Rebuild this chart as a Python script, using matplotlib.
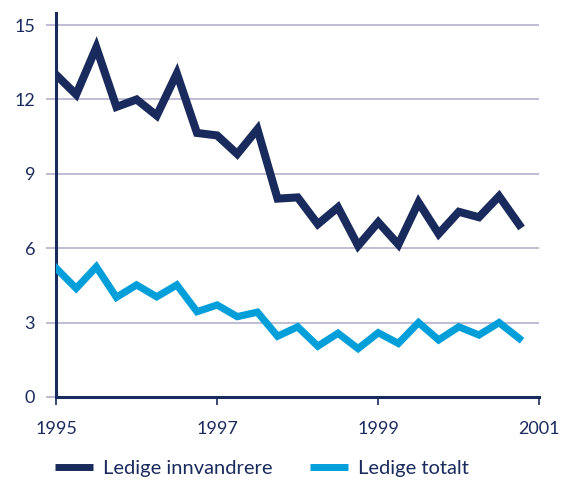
import matplotlib
matplotlib.use("Agg")
import matplotlib.pyplot as plt
import numpy as np

years = [1995 + 0.25 * i for i in range(24)]
innvandrere = [13.0, 12.2, 14.1, 11.7, 12.0, 11.35, 13.05, 10.65, 10.55, 9.8, 10.8, 8.0,
               8.05, 6.97, 7.65, 6.1, 7.05, 6.15, 7.85, 6.58, 7.47, 7.25, 8.1, 6.95]
totalt = [5.2, 4.38, 5.25, 4.02, 4.52, 4.04, 4.52, 3.44, 3.71, 3.24, 3.42, 2.45,
          2.83, 2.05, 2.57, 1.95, 2.59, 2.16, 3.0, 2.3, 2.83, 2.5, 3.0, 2.36]
xticks = [1995, 1997, 1999, 2001]
yticks = [0, 3, 6, 9, 12, 15]
labels = ["Ledige innvandrere", "Ledige totalt"]

navy = "#192a5c"
light = "#009fda"
grid = "#b4b2cc"

plt.rcParams['font.family'] = ['Lato', 'DejaVu Sans']

fig = plt.figure(figsize=(5.63, 4.8), dpi=100)
ax = fig.add_axes([0.0995, 0.173, 0.8585, 0.8005])

ax.plot(years, innvandrere, color=navy, lw=5.8, solid_joinstyle='miter', label=labels[0], zorder=3)
ax.plot(years, totalt, color=light, lw=5.2, solid_joinstyle='miter', label=labels[1], zorder=3)

ax.set_xlim(1995, 2001)
ax.set_ylim(0, 15.5)
ax.set_xticks(xticks)
ax.set_yticks(yticks)
ax.yaxis.grid(True, color=grid, lw=1.2)
ax.set_axisbelow(True)

for s in ['top', 'right']:
    ax.spines[s].set_visible(False)
ax.spines['left'].set_color(navy)
ax.spines['left'].set_linewidth(2.2)
ax.spines['bottom'].set_color(navy)
ax.spines['bottom'].set_linewidth(2.2)

ax.tick_params(axis='y', length=7, width=1.2, color=grid, labelcolor=navy, labelsize=13, pad=8)
ax.tick_params(axis='x', length=6, width=1.2, color=navy, labelcolor=navy, labelsize=13, pad=11)

leg = fig.legend(loc='center left', bbox_to_anchor=(55 / 563, 1 - 468 / 480), ncol=2, frameon=False,
                 fontsize=14.5, handlelength=1.9, handletextpad=0.5, columnspacing=1.84,
                 borderpad=0, borderaxespad=0, labelcolor=navy)
for h in leg.get_lines():
    h.set_linewidth(5)
    h.set_solid_capstyle('butt')

fig.savefig("out.png", dpi=100)
